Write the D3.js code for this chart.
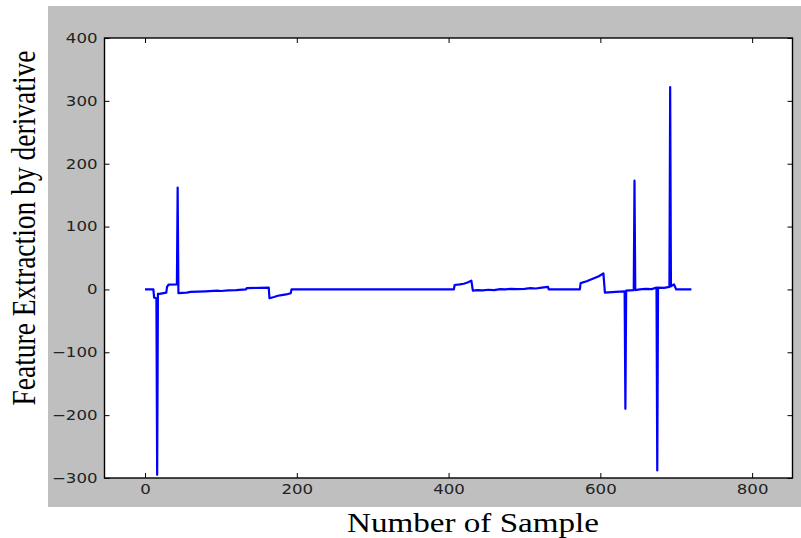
<!DOCTYPE html>
<html>
<head>
<meta charset="utf-8">
<script src="https://cdn.jsdelivr.net/npm/d3@7"></script>
<style>
  html, body { margin: 0; padding: 0; background: #ffffff; }
  svg { display: block; }
</style>
</head>
<body>
<svg id="chart" width="801" height="538"></svg>
<script>
// Sample index and derivative value at each knot of the signal
const sampleIdx = [
  0, 11, 12, 15, 16, 17, 19, 28, 29, 31, 42, 43, 44,
  55, 60, 70, 80, 95, 100, 110, 120, 133, 134, 150, 163, 164, 170, 175, 180, 186, 192, 193,
  407, 408, 415, 420, 425, 430, 432, 438, 445, 452, 460, 468, 475, 482, 490, 500, 508, 515, 523, 531, 532,
  573, 574, 582, 590, 598, 604, 606, 620, 632, 633, 634, 644, 645, 646,
  652, 660, 668, 674, 675, 676, 684, 691, 692, 693, 697, 700, 720
];
const derivValue = [
  0, 0, -13, -14, -295, -7, -7, -5, 4, 7.5, 8, 162, -6,
  -5, -4, -3.5, -3, -2, -2.5, -1.5, -1, 0, 2, 2.5, 3, -14, -12, -10, -9, -8, -6, 0,
  0, 7, 8, 9, 11, 14, -2, -1, -1.5, -0.5, -1, 0.5, 0, 1, 0.5, 1, 2, 1.5, 3, 4, 0,
  0, 10, 13, 17, 21, 25.6, -5, -4, -3, -190, -2, -1, 173, -1,
  0, 1, 0.5, 3, -288, 3, 2.5, 4, 322, 5, 8, 0, 0
];

const xTicks = [0, 200, 400, 600, 800];
const yTicks = [400, 300, 200, 100, 0, -100, -200, -300];
const xTitle = "Number of Sample";
const yTitle = "Feature Extraction by derivative";

const svg = d3.select("#chart");

// Figure background
svg.append("rect")
  .attr("x", 48).attr("y", 6)
  .attr("width", 753).attr("height", 501)
  .attr("fill", "#bfbfbf");

const plot = { left: 104.5, right: 792.5, top: 38, bottom: 478 };

const x = d3.scaleLinear().domain([-53.4, 853.2]).range([plot.left, plot.right]);
const y = d3.scaleLinear().domain([-300, 400]).range([plot.bottom, plot.top]);

// Axes area
svg.append("rect")
  .attr("x", plot.left).attr("y", plot.top)
  .attr("width", plot.right - plot.left).attr("height", plot.bottom - plot.top)
  .attr("fill", "#ffffff");

svg.append("clipPath").attr("id", "clip")
  .append("rect")
  .attr("x", plot.left).attr("y", plot.top)
  .attr("width", plot.right - plot.left).attr("height", plot.bottom - plot.top);

const pts = sampleIdx.map((s, i) => [s, derivValue[i]]);
const line = d3.line().x(d => x(d[0])).y(d => y(d[1]));

svg.append("path")
  .datum(pts)
  .attr("clip-path", "url(#clip)")
  .attr("d", line)
  .attr("fill", "none")
  .attr("stroke", "#0000ff")
  .attr("stroke-width", 2.2)
  .attr("stroke-linejoin", "round");

const tickFont = "'DejaVu Sans', sans-serif";
const stretch = 1.23;

function styleAxis(g) {
  g.select(".domain").remove();
  g.selectAll(".tick line").attr("stroke", "#000").attr("stroke-width", 1);
}

// Bottom axis with labels
const gx = svg.append("g")
  .attr("transform", `translate(0,${plot.bottom})`)
  .call(d3.axisBottom(x).tickValues(xTicks).tickSizeInner(-5).tickSizeOuter(0).tickPadding(6));
styleAxis(gx);
gx.selectAll(".tick text")
  .attr("font-family", tickFont).attr("font-size", 13.5).attr("fill", "#222")
  .attr("transform", `scale(${stretch},1)`);

// Top axis, ticks only
const gxt = svg.append("g")
  .attr("transform", `translate(0,${plot.top})`)
  .call(d3.axisTop(x).tickValues(xTicks).tickSizeInner(-5).tickSizeOuter(0).tickFormat(""));
styleAxis(gxt);

// Left axis with labels
const gy = svg.append("g")
  .attr("transform", `translate(${plot.left},0)`)
  .call(d3.axisLeft(y).tickValues(yTicks).tickSizeInner(-5).tickSizeOuter(0).tickPadding(7)
    .tickFormat(d => d < 0 ? "\u2212" + Math.abs(d) : String(d)));
styleAxis(gy);
gy.selectAll(".tick text")
  .attr("font-family", tickFont).attr("font-size", 13.5).attr("fill", "#222")
  .attr("x", -7 / stretch)
  .attr("transform", `scale(${stretch},1)`);

// Right axis, ticks only
const gyr = svg.append("g")
  .attr("transform", `translate(${plot.right},0)`)
  .call(d3.axisRight(y).tickValues(yTicks).tickSizeInner(-5).tickSizeOuter(0).tickFormat(""));
styleAxis(gyr);

// Frame
svg.append("rect")
  .attr("x", plot.left).attr("y", plot.top)
  .attr("width", plot.right - plot.left).attr("height", plot.bottom - plot.top)
  .attr("fill", "none").attr("stroke", "#000").attr("stroke-width", 1.4);

// Axis titles
svg.append("text")
  .attr("x", 473).attr("y", 531.5)
  .attr("text-anchor", "middle")
  .attr("font-family", "'Liberation Serif', 'Times New Roman', serif")
  .attr("font-size", 27.5)
  .attr("textLength", 252).attr("lengthAdjust", "spacingAndGlyphs")
  .attr("fill", "#000")
  .text(xTitle);

svg.append("text")
  .attr("transform", `translate(35,228) scale(${stretch},1) rotate(-90)`)
  .attr("text-anchor", "middle")
  .attr("font-family", "'Liberation Serif', 'Times New Roman', serif")
  .attr("font-size", 27.5)
  .attr("textLength", 355).attr("lengthAdjust", "spacingAndGlyphs")
  .attr("fill", "#000")
  .text(yTitle);
</script>
</body>
</html>
